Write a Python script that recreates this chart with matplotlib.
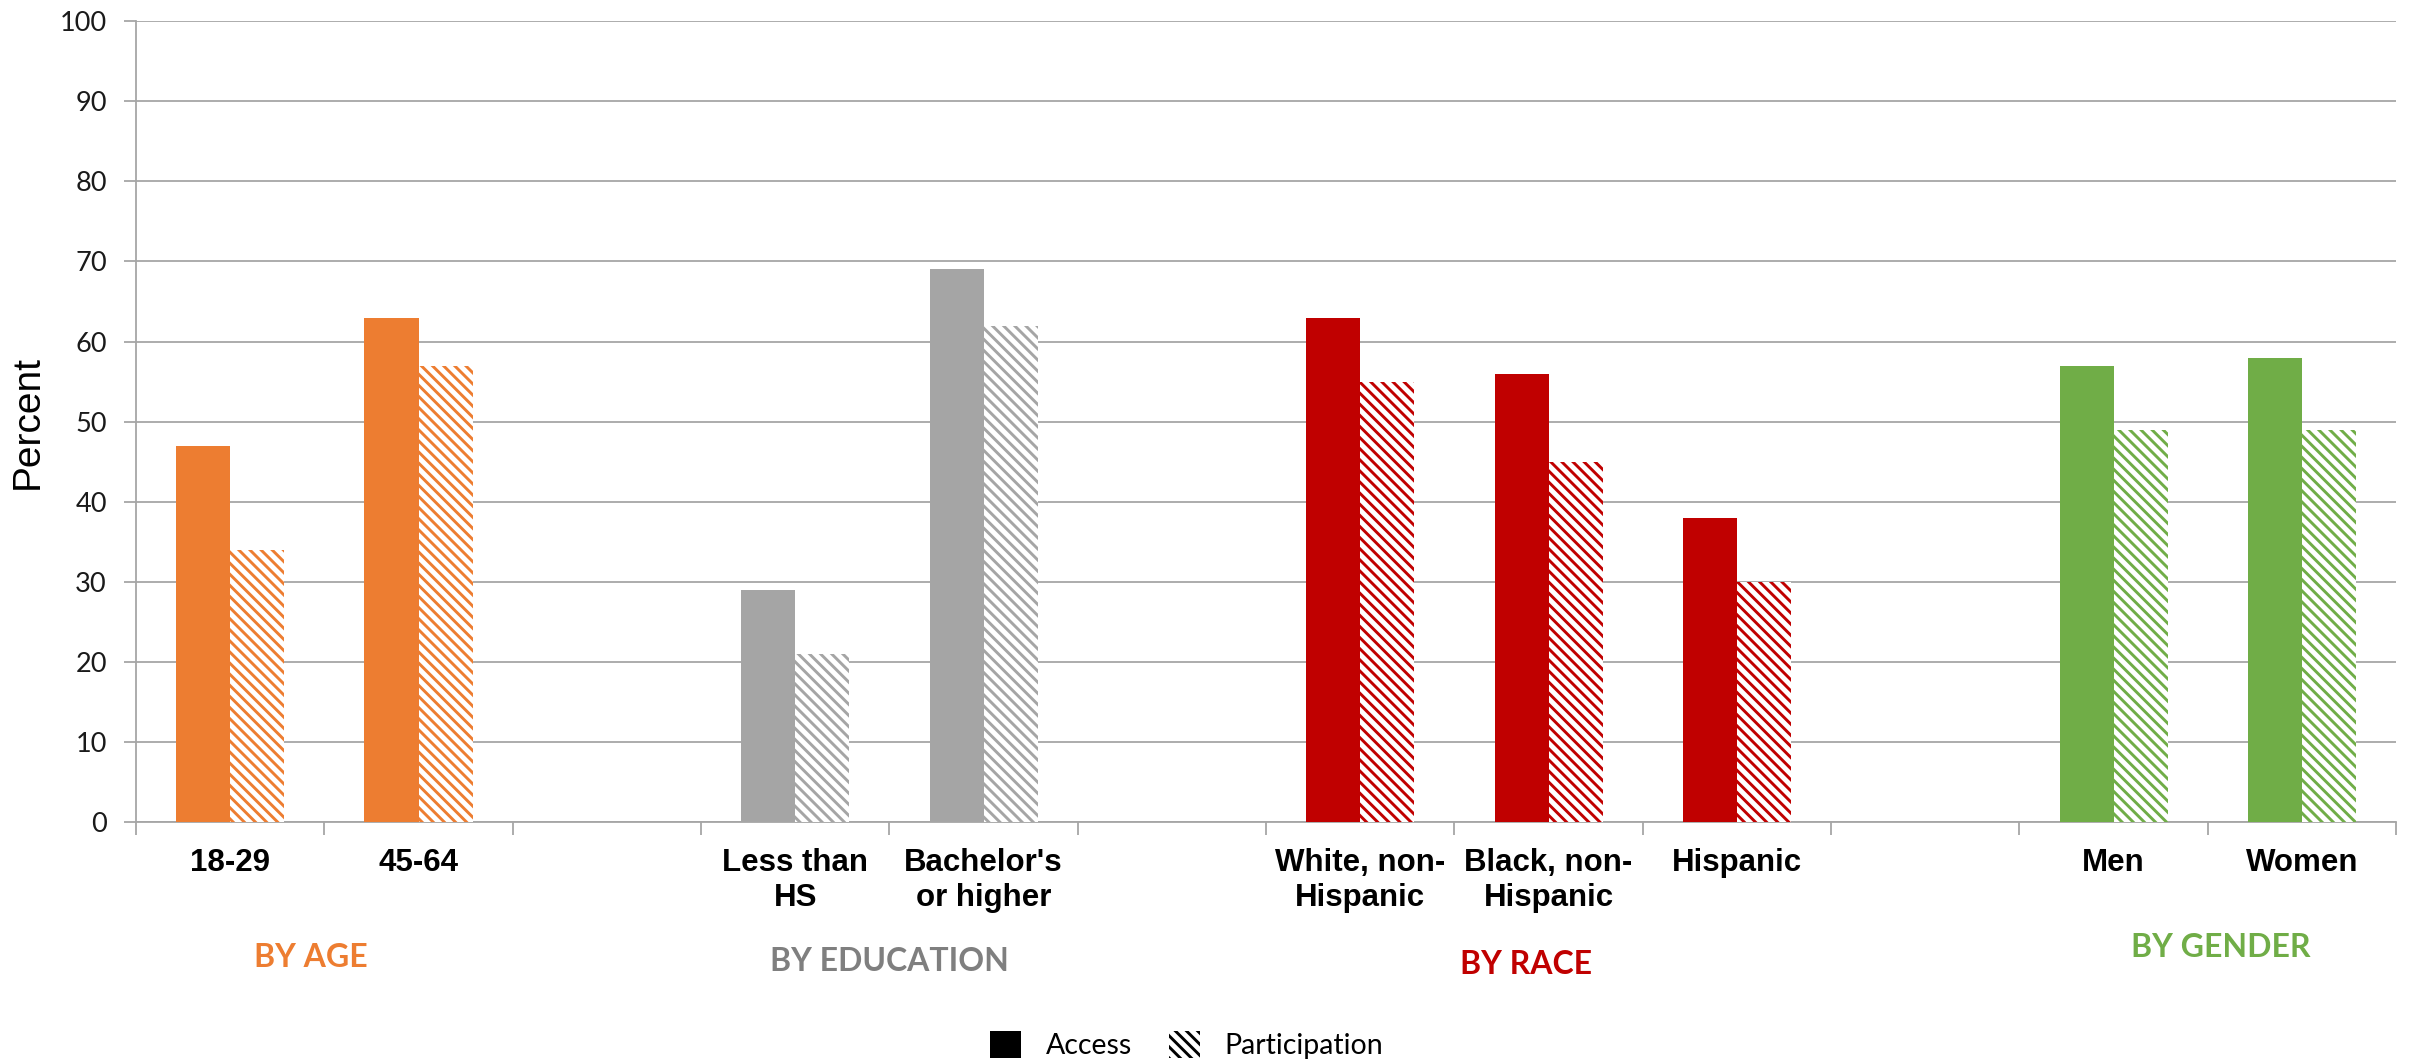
import numpy as np
import matplotlib
matplotlib.use('Agg')
import matplotlib.pyplot as plt
from matplotlib.patches import Patch
from matplotlib import transforms

# Access to and participation in workplace retirement plans, by group
categories = ['18-29', '45-64', '',
              'Less than\nHS', "Bachelor's\nor higher", '',
              'White, non-\nHispanic', 'Black, non-\nHispanic', 'Hispanic', '',
              'Men', 'Women']
access = [47, 63, np.nan, 29, 69, np.nan, 63, 56, 38, np.nan, 57, 58]
participation = [34, 57, np.nan, 21, 62, np.nan, 55, 45, 30, np.nan, 49, 49]

group_names = ['BY AGE', 'BY EDUCATION', 'BY RACE', 'BY GENDER']
group_colors = ['#ED7D31', '#A5A5A5', '#C00000', '#70AD47']
group_text_colors = ['#ED7D31', '#7F7F7F', '#C00000', '#70AD47']
# which group each slot belongs to (-1 = spacer)
slot_group = [0, 0, -1, 1, 1, -1, 2, 2, 2, -1, 3, 3]

plt.rcParams['hatch.linewidth'] = 2.1

fig = plt.figure(figsize=(24.12, 10.62), dpi=100)
ax = fig.add_axes([0.0564, 0.226, 0.937, 0.754])

x = np.arange(len(categories))
w = 0.287
hatch = '\\\\\\'

for i, g in enumerate(slot_group):
    if g < 0:
        continue
    c = group_colors[g]
    ax.bar(x[i] - w / 2, access[i], w, color=c, linewidth=0, zorder=3)
    ax.bar(x[i] + w / 2, participation[i], w, facecolor='white', edgecolor=c,
           hatch=hatch, linewidth=0, zorder=3)

ax.set_xlim(-0.5, len(categories) - 0.5)
ax.set_ylim(0, 100)
ax.set_yticks(np.arange(0, 101, 10))
ax.yaxis.grid(True, color='#A6A6A6', linewidth=1.3, zorder=0)
ax.set_axisbelow(True)

ax.set_xticks(x)
ax.set_xticklabels(categories, fontfamily='Liberation Sans', fontweight='bold',
                   fontsize=22.5, linespacing=1.2)
ax.set_xticks(np.arange(-0.5, len(categories)), minor=True)
ax.tick_params(axis='x', which='major', length=0, pad=19)
ax.tick_params(axis='x', which='minor', length=9, width=1.3, color='#A6A6A6')
ax.tick_params(axis='y', length=9, width=1.3, color='#A6A6A6', pad=12)
for lab in ax.get_yticklabels():
    lab.set_fontfamily('Lato')
    lab.set_fontsize(19.5)
    lab.set_color('#1a1a1a')

for s in ['top', 'right']:
    ax.spines[s].set_visible(False)
ax.spines['left'].set_color('#A6A6A6')
ax.spines['bottom'].set_color('#A6A6A6')
ax.spines['left'].set_linewidth(1.3)
ax.spines['bottom'].set_linewidth(1.3)

ax.set_ylabel('Percent', fontfamily='Liberation Sans', fontsize=28, labelpad=10)

# group captions under the category labels
trans = transforms.blended_transform_factory(ax.transData, fig.transFigure)
group_x = [0.43, 3.5, 6.88, 10.57]
group_y = [0.098, 0.095, 0.092, 0.108]
for name, gx, gy, tc in zip(group_names, group_x, group_y, group_text_colors):
    ax.text(gx, gy, name, transform=trans, ha='center', va='center',
            fontfamily='Lato', fontweight='bold', fontsize=23, color=tc)

handles = [Patch(facecolor='black', edgecolor='black', linewidth=0),
           Patch(facecolor='white', edgecolor='black', hatch=hatch, linewidth=0)]
fig.legend(handles, ['Access', 'Participation'], loc='center',
           bbox_to_anchor=(0.492, 0.016), ncol=2, frameon=False,
           prop={'family': 'Lato', 'size': 20.5}, handlelength=1.1,
           handleheight=1.1, handletextpad=0.85, columnspacing=1.3)

fig.savefig('out.png', dpi=100)
